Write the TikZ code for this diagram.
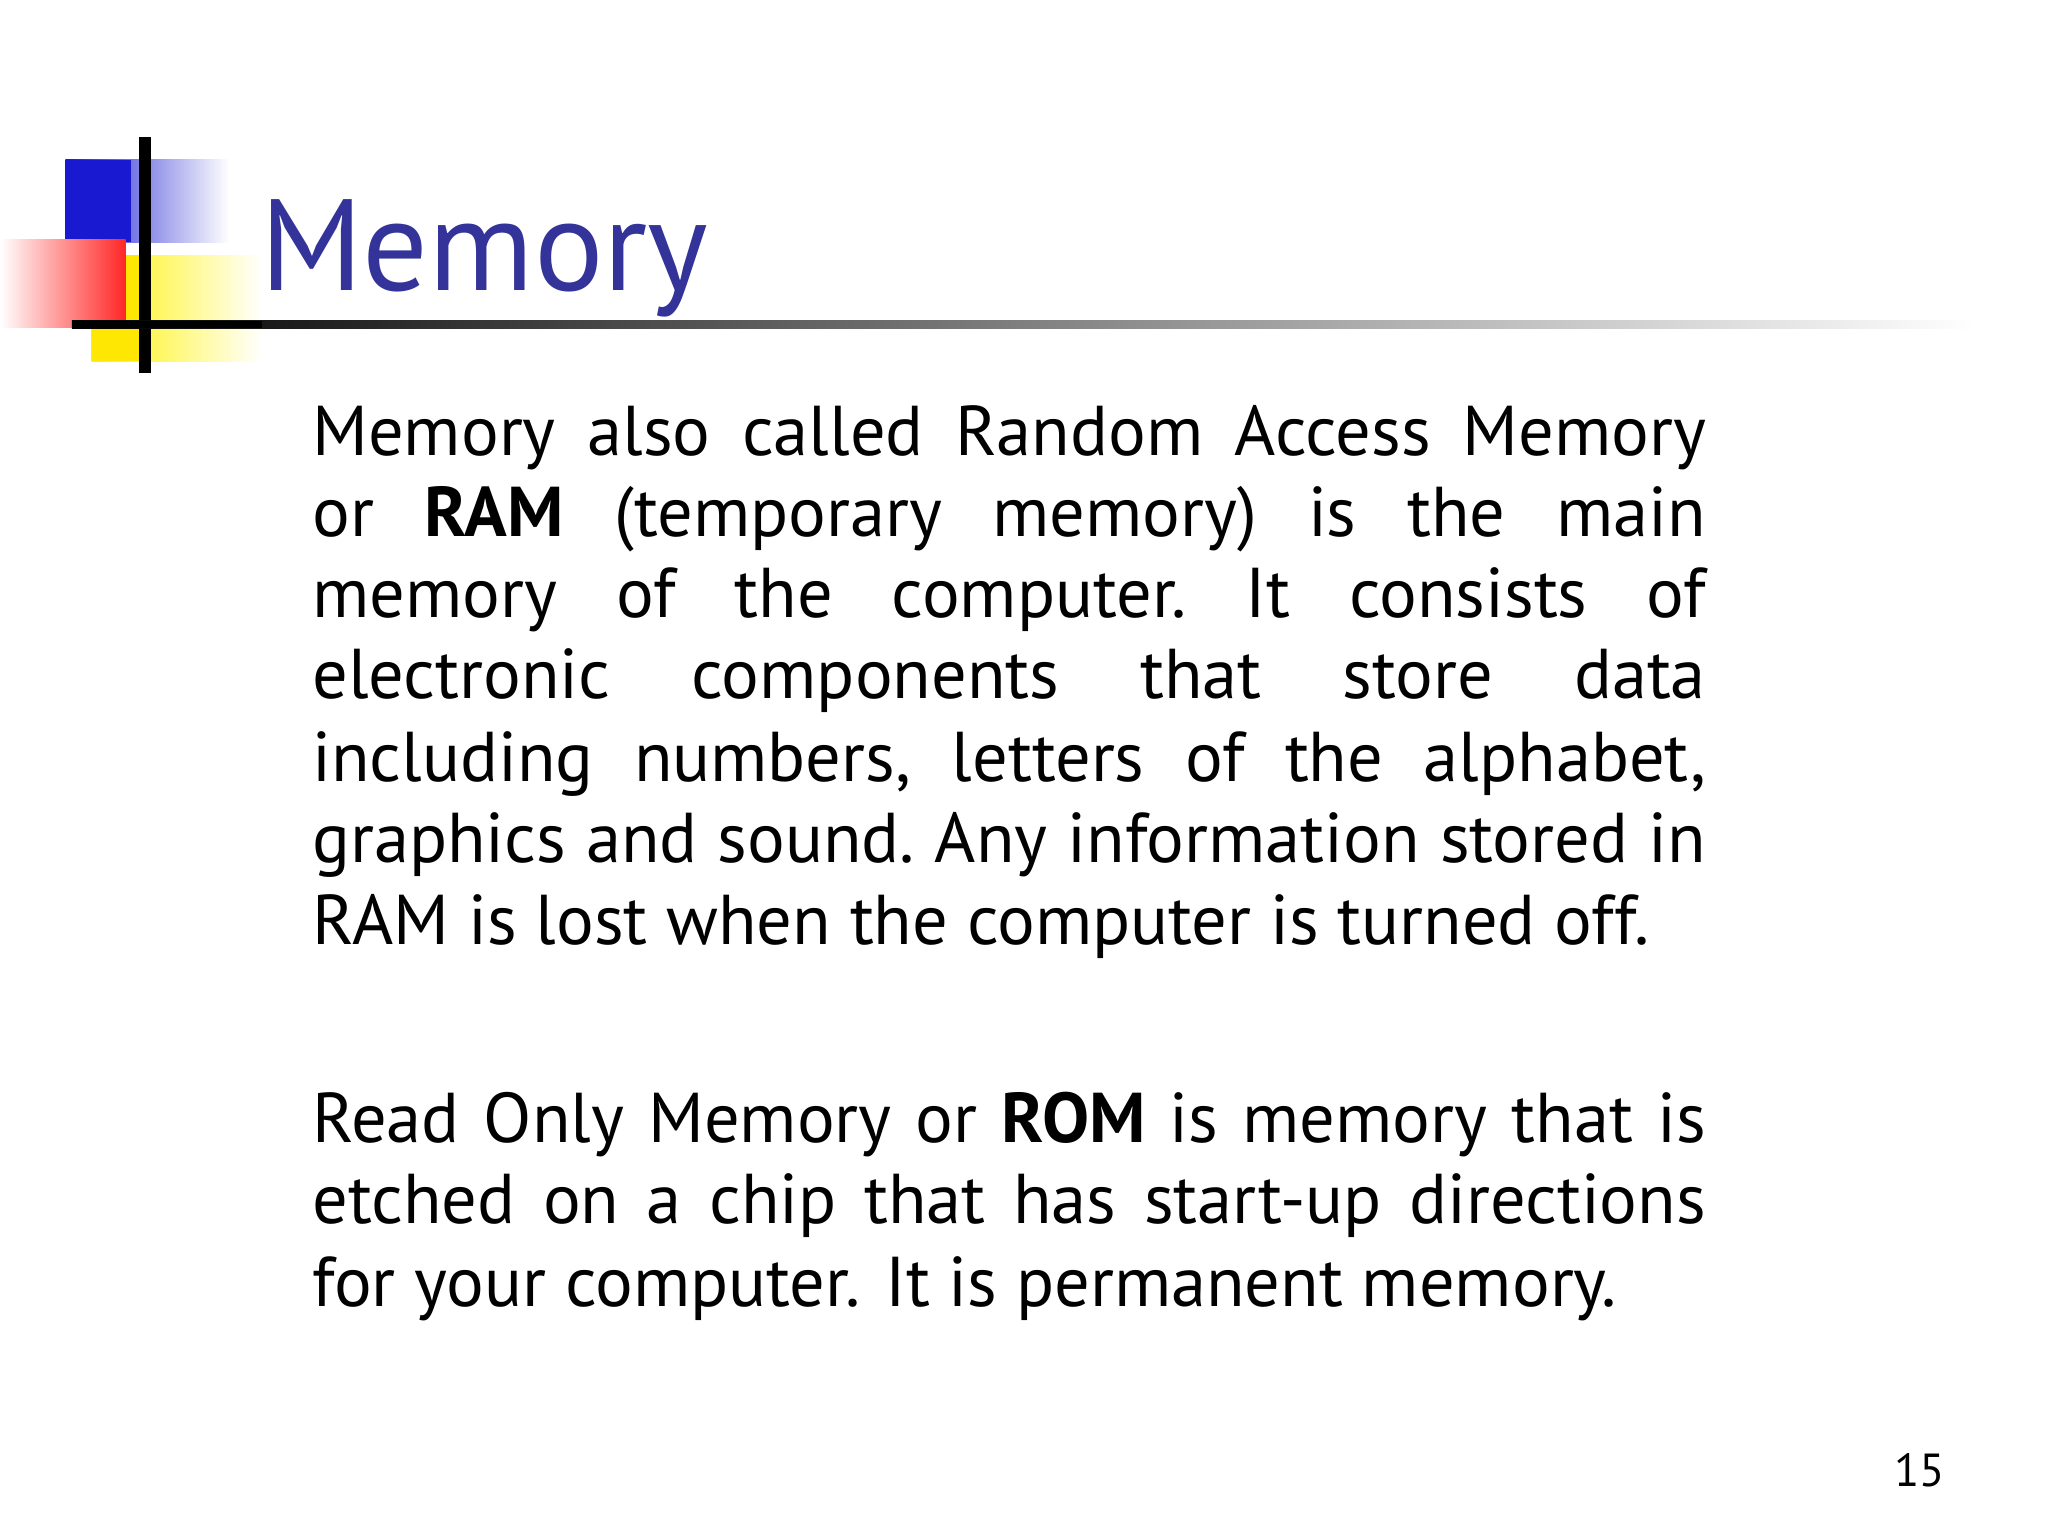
\documentclass[tikz,border=0pt]{standalone}
\usepackage{fontspec}
\setmainfont{PT Sans}
\definecolor{titleblue}{RGB}{51,51,153}
\begin{document}
\begin{tikzpicture}[x=0.009914cm,y=-0.009914cm,
  txt/.style={anchor=base west,inner sep=0pt,font=\fontsize{15.2}{18}\selectfont}]
\useasboundingbox (0,0) rectangle (15.52cm,-11.64cm);
\fill[white] (0,0) rectangle (15.52cm,-11.64cm);
% decorations
\shade[left color=blue!80!black!90, right color=white] (50,122) rectangle (175,185);
\fill[blue!80!black!90] (50,122) rectangle (100,185);
\shade[left color=yellow!90!orange, right color=white] (70,195) rectangle (200,276);
\fill[yellow!90!orange] (70,195) rectangle (110,276);
\shade[left color=white, right color=red!85] (0,183) rectangle (96,250);
\draw[line width=2.5pt] (111,105) -- (111,285);
\shade[left color=black, right color=white] (55,245) rectangle (1510,251);
\fill[black] (55,245) rectangle (200,251);
% title
\node[anchor=base west,inner sep=0pt,text=titleblue,font=\fontsize{28}{32}\selectfont] (title) at (198,222) {Memory};
% paragraph 1
\node[txt] (a1) at (238,348) {\hbox to 10.56cm{Memory\hfill also\hfill called\hfill Random\hfill Access\hfill Memory}};
\node[txt] (a2) at (238,410) {\hbox to 10.56cm{or\hfill \textbf{RAM}\hfill (temporary\hfill memory)\hfill is\hfill the\hfill main}};
\node[txt] (a3) at (238,472) {\hbox to 10.56cm{memory\hfill of\hfill the\hfill computer.\hfill It\hfill consists\hfill of}};
\node[txt] (a4) at (238,534) {\hbox to 10.56cm{electronic\hfill components\hfill that\hfill store\hfill data}};
\node[txt] (a5) at (238,597) {\hbox to 10.56cm{including\hfill numbers,\hfill letters\hfill of\hfill the\hfill alphabet,}};
\node[txt] (a6) at (238,659) {\hbox to 10.56cm{graphics\hfill and\hfill sound.\hfill Any\hfill information\hfill stored\hfill in}};
\node[txt] (a7) at (238,722) {RAM is lost when the computer is turned off.};
% paragraph 2
\node[txt] (b1) at (238,873) {\hbox to 10.56cm{Read\hfill Only\hfill Memory\hfill or\hfill \textbf{ROM}\hfill is\hfill memory\hfill that\hfill is}};
\node[txt] (b2) at (238,935) {\hbox to 10.56cm{etched\hfill on\hfill a\hfill chip\hfill that\hfill has\hfill start-up\hfill directions}};
\node[txt] (b3) at (238,998) {for your computer. It is permanent memory.};
\node[anchor=base east,inner sep=0pt,font=\fontsize{10}{12}\selectfont] (pg) at (1487,1136) {15};
\end{tikzpicture}
\end{document}
